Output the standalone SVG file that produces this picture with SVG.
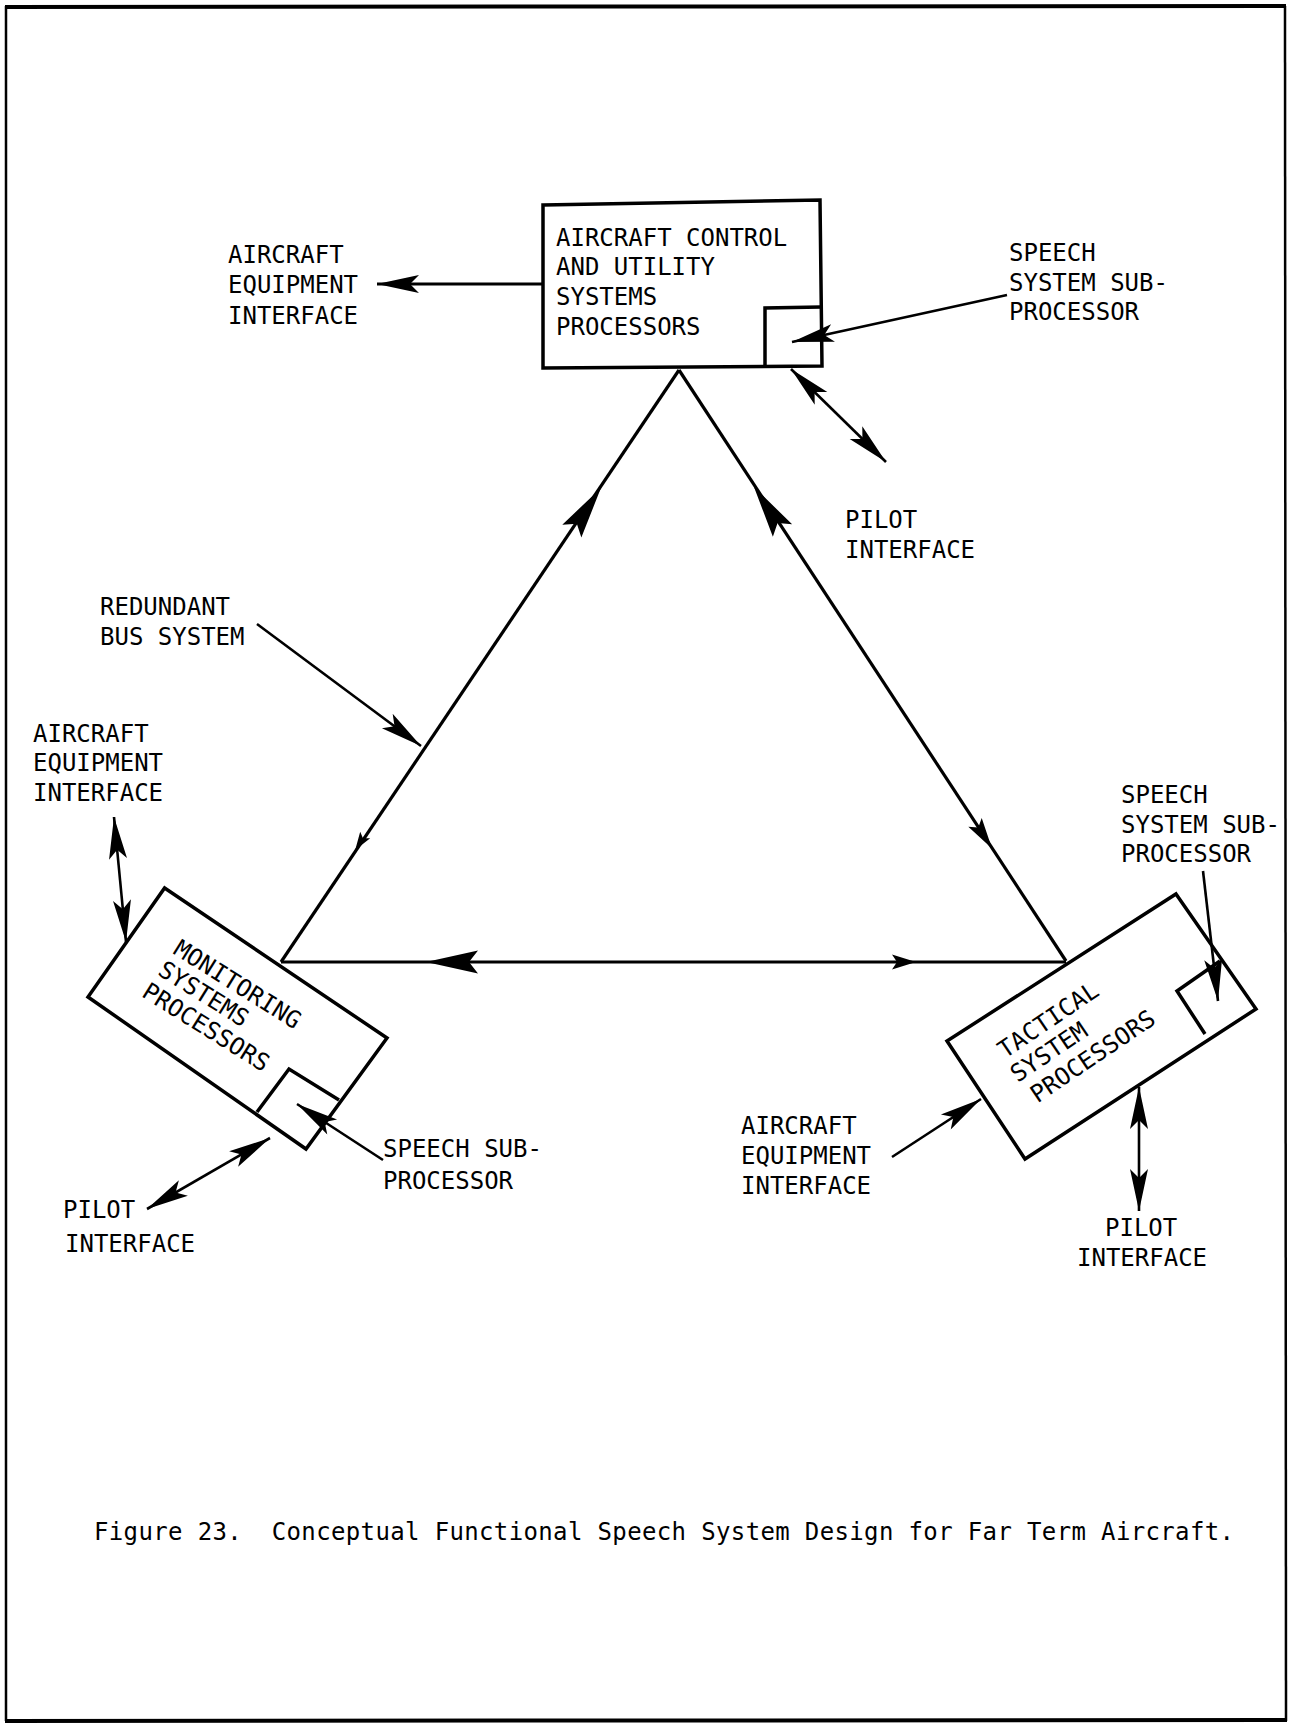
<svg xmlns="http://www.w3.org/2000/svg" width="1291" height="1726" viewBox="0 0 1291 1726">
  <style>
    .lbl { font-family: "DejaVu Sans Mono", "Liberation Mono", monospace; font-size: 24px; fill: #000; }
    .box { fill: #fff; stroke: #000; stroke-width: 3.5; stroke-linejoin: miter; }
    .sub { fill: none; stroke: #000; stroke-width: 3.5; }
    .bus { fill: none; stroke: #000; stroke-width: 3.2; }
    .lead { fill: none; stroke: #000; stroke-width: 2.6; }
    .mid { fill: none; stroke: none; }
    .frame { fill: none; stroke: #000; }
  </style>
  <defs>
    <marker id="ahBig" viewBox="-56 -14 58 28" markerWidth="58" markerHeight="28" refX="0" refY="0" orient="auto-start-reverse" markerUnits="userSpaceOnUse">
      <path d="M0,0 L-52,-11.5 L-43,0 L-52,11.5 Z" fill="#000"/>
    </marker>
    <marker id="ahMed" viewBox="-46 -11 48 22" markerWidth="48" markerHeight="22" refX="0" refY="0" orient="auto-start-reverse" markerUnits="userSpaceOnUse">
      <path d="M0,0 L-42,-9 L-33,0 L-42,9 Z" fill="#000"/>
    </marker>
    <marker id="ahMid" viewBox="-34 -10 36 20" markerWidth="36" markerHeight="20" refX="0" refY="0" orient="auto" markerUnits="userSpaceOnUse">
      <path d="M0,0 L-31,-8 L-25,0 L-31,8 Z" fill="#000"/>
    </marker>
    <marker id="ahSmall" viewBox="-28 -9 30 18" markerWidth="30" markerHeight="18" refX="0" refY="0" orient="auto" markerUnits="userSpaceOnUse">
      <path d="M0,0 L-24,-7.5 L-19,0 L-24,7.5 Z" fill="#000"/>
    </marker>
    <marker id="ahTiny" viewBox="-21 -8 23 16" markerWidth="23" markerHeight="16" refX="0" refY="0" orient="auto" markerUnits="userSpaceOnUse">
      <path d="M0,0 L-18,-6 L-14,0 L-18,6 Z" fill="#000"/>
    </marker>
  </defs>

  <rect width="1291" height="1726" fill="#fff"/>

  <!-- page frame -->
  <g id="frame">
    <path class="frame" d="M5,7 L1286,6" stroke-width="4"/>
    <path class="frame" d="M6,6 L6,1721" stroke-width="2.5"/>
    <path class="frame" d="M1285,6 L1286,1721" stroke-width="2.5"/>
    <path class="frame" d="M5,1721 L1287,1720" stroke-width="4"/>
  </g>

  <!-- aircraft control and utility systems processors -->
  <g id="node-control">
    <polygon class="box" points="543,205 820,200 822,366 543,368"/>
    <path class="sub" d="M765,367 L765,308 L821,307"/>
    <text class="lbl" x="556" y="246">AIRCRAFT CONTROL</text>
    <text class="lbl" x="556" y="275">AND UTILITY</text>
    <text class="lbl" x="556" y="305">SYSTEMS</text>
    <text class="lbl" x="556" y="335">PROCESSORS</text>
  </g>

  <!-- monitoring systems processors -->
  <g id="node-monitoring">
    <polygon class="box" points="164.6,888 387,1038 306,1149 88,997"/>
    <path class="sub" d="M257,1112 L289,1069 L339,1100"/>
    <g transform="translate(172,953) rotate(32)">
      <text class="lbl" x="0" y="0">MONITORING</text>
      <text class="lbl" x="-2" y="26">SYSTEMS</text>
      <text class="lbl" x="-4" y="53">PROCESSORS</text>
    </g>
  </g>

  <!-- tactical system processors -->
  <g id="node-tactical">
    <polygon class="box" points="1176,894 1256,1009 1025,1159 947,1041"/>
    <path class="sub" d="M1205,1034 L1177,991 L1220,961"/>
    <g transform="translate(1005,1059) rotate(-34)">
      <text class="lbl" x="0" y="0">TACTICAL</text>
      <text class="lbl" x="-3" y="27">SYSTEM</text>
      <text class="lbl" x="2" y="55">PROCESSORS</text>
    </g>
  </g>

  <!-- bus triangle and interface connectors -->
  <g id="connectors">
    <!-- redundant bus: three sides -->
    <path class="bus" d="M281,962 L679,370"/>
    <path class="bus" d="M679,370 L1066,961"/>
    <path class="bus" d="M281,962 L1066,962"/>
    <!-- direction heads along the bus -->
    <path class="mid" d="M595.3,496.3 L600.9,488" marker-end="url(#ahBig)"/>
    <path class="mid" d="M360.6,841.9 L355.2,850" marker-end="url(#ahTiny)"/>
    <path class="mid" d="M759.5,495.4 L754,487" marker-end="url(#ahBig)"/>
    <path class="mid" d="M986.5,840 L992,848.4" marker-end="url(#ahMid)"/>
    <path class="mid" d="M436,962 L426,962" marker-end="url(#ahBig)"/>
    <path class="mid" d="M906,962 L916,962" marker-end="url(#ahSmall)"/>

    <!-- top processor interfaces -->
    <path class="bus" d="M543,284 L377,284" stroke-width="3.6" marker-end="url(#ahMed)"/>
    <path class="lead" d="M1007,295 L792,342" marker-end="url(#ahMed)"/>
    <path class="lead" d="M791,369 L886,462" marker-start="url(#ahMed)" marker-end="url(#ahMed)"/>

    <!-- bus label leader -->
    <path class="lead" d="M257,624 L421,746" marker-end="url(#ahMed)"/>

    <!-- monitoring processor interfaces -->
    <path class="lead" d="M114,817 L126,942" marker-start="url(#ahMed)" marker-end="url(#ahMed)"/>
    <path class="lead" d="M383,1160 L297,1104" marker-end="url(#ahMed)"/>
    <path class="lead" d="M270,1138 L147,1209" marker-start="url(#ahMed)" marker-end="url(#ahMed)"/>

    <!-- tactical processor interfaces -->
    <path class="lead" d="M1203,871 L1218,1001" marker-end="url(#ahMed)"/>
    <path class="lead" d="M892,1157 L981,1099" marker-end="url(#ahMed)"/>
    <path class="lead" d="M1139,1087 L1139,1211" marker-start="url(#ahMed)" marker-end="url(#ahMed)"/>
  </g>

  <!-- labels -->
  <g id="label-top-equipment">
    <text class="lbl" x="228" y="263">AIRCRAFT</text>
    <text class="lbl" x="228" y="293">EQUIPMENT</text>
    <text class="lbl" x="228" y="324">INTERFACE</text>
  </g>
  <g id="label-top-speech">
    <text class="lbl" x="1009" y="261">SPEECH</text>
    <text class="lbl" x="1009" y="291">SYSTEM SUB-</text>
    <text class="lbl" x="1009" y="320">PROCESSOR</text>
  </g>
  <g id="label-top-pilot">
    <text class="lbl" x="845" y="528">PILOT</text>
    <text class="lbl" x="845" y="558">INTERFACE</text>
  </g>
  <g id="label-bus">
    <text class="lbl" x="100" y="615">REDUNDANT</text>
    <text class="lbl" x="100" y="645">BUS SYSTEM</text>
  </g>
  <g id="label-left-equipment">
    <text class="lbl" x="33" y="742">AIRCRAFT</text>
    <text class="lbl" x="33" y="771">EQUIPMENT</text>
    <text class="lbl" x="33" y="801">INTERFACE</text>
  </g>
  <g id="label-left-speech">
    <text class="lbl" x="383" y="1157">SPEECH SUB-</text>
    <text class="lbl" x="383" y="1189">PROCESSOR</text>
  </g>
  <g id="label-left-pilot">
    <text class="lbl" x="63" y="1218">PILOT</text>
    <text class="lbl" x="65" y="1252">INTERFACE</text>
  </g>
  <g id="label-right-speech">
    <text class="lbl" x="1121" y="803">SPEECH</text>
    <text class="lbl" x="1121" y="833">SYSTEM SUB-</text>
    <text class="lbl" x="1121" y="862">PROCESSOR</text>
  </g>
  <g id="label-right-equipment">
    <text class="lbl" x="741" y="1134">AIRCRAFT</text>
    <text class="lbl" x="741" y="1164">EQUIPMENT</text>
    <text class="lbl" x="741" y="1194">INTERFACE</text>
  </g>
  <g id="label-right-pilot">
    <text class="lbl" x="1105" y="1236">PILOT</text>
    <text class="lbl" x="1077" y="1266">INTERFACE</text>
  </g>

  <!-- caption -->
  <text id="caption" class="lbl" x="94" y="1540" textLength="1140" lengthAdjust="spacing" xml:space="preserve">Figure 23.  Conceptual Functional Speech System Design for Far Term Aircraft.</text>
</svg>
